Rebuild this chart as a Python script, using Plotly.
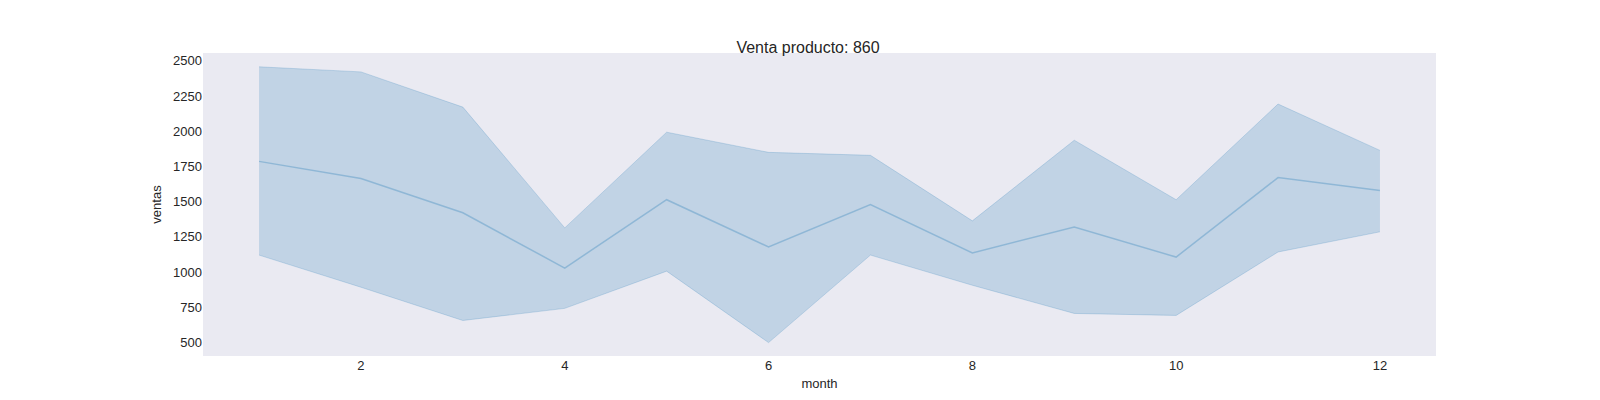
import plotly.graph_objects as go

months = list(range(1, 13))
ventas_mean = [1786, 1664, 1421, 1029, 1514, 1179, 1479, 1136, 1321, 1107, 1671, 1579]
ventas_upper = [2457, 2421, 2171, 1314, 1993, 1850, 1829, 1364, 1936, 1514, 2193, 1864]
ventas_lower = [1121, 893, 657, 743, 1007, 500, 1121, 907, 707, 693, 1143, 1286]

blue = "rgba(31,119,180,{})"

fig = go.Figure()
fig.add_trace(go.Scatter(x=months, y=ventas_upper, mode="lines",
                         line=dict(color=blue.format(0.2), width=1), showlegend=False))
fig.add_trace(go.Scatter(x=months, y=ventas_lower, mode="lines", fill="tonexty",
                         fillcolor=blue.format(0.2),
                         line=dict(color=blue.format(0.2), width=1), showlegend=False))
fig.add_trace(go.Scatter(x=months, y=ventas_mean, mode="lines",
                         line=dict(color=blue.format(0.3), width=1.5), showlegend=False))

fig.update_layout(
    width=1600, height=400,
    margin=dict(l=195, r=172, t=45, b=52),
    paper_bgcolor="white", plot_bgcolor="#EAEAF2",
    font=dict(family="Liberation Sans, Arial", size=13, color="#262626"),
    title=dict(text="Venta producto: 860", x=0.5, y=0.915, xanchor="center",
               font=dict(size=16)),
    xaxis=dict(title=dict(text="month", standoff=6, font=dict(size=13)), range=[0.45, 12.55],
               tickvals=[2, 4, 6, 8, 10, 12], showgrid=False, zeroline=False),
    yaxis=dict(title=dict(text="ventas", standoff=8, font=dict(size=13)), range=[405, 2555],
               tickvals=[500, 750, 1000, 1250, 1500, 1750, 2000, 2250, 2500],
               showgrid=False, zeroline=False),
)
fig.write_html("out.html")
